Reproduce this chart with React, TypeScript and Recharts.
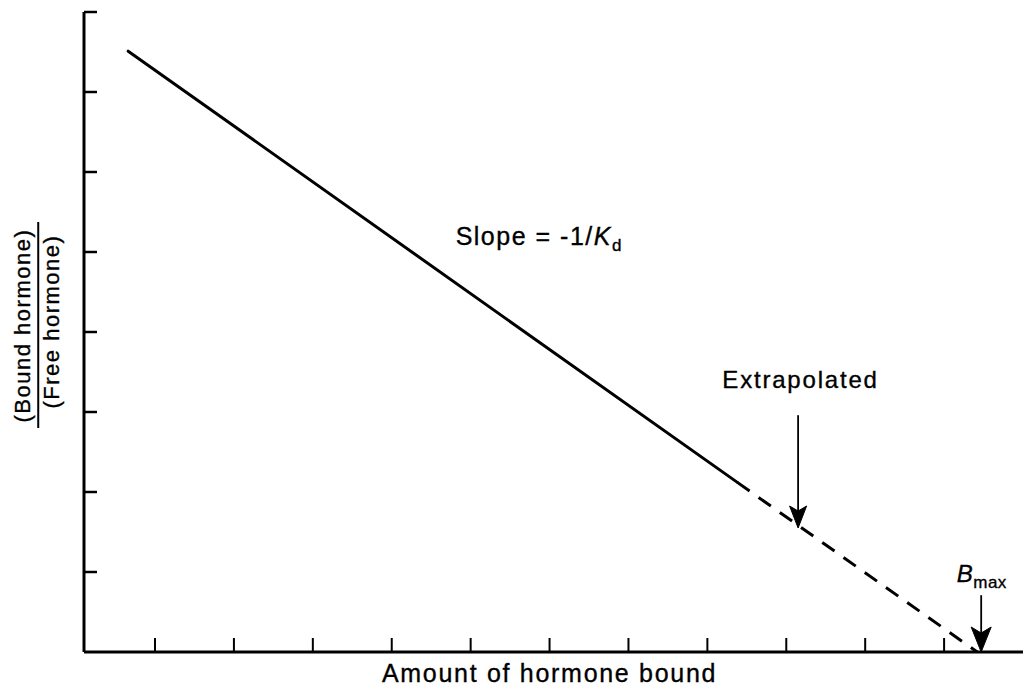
import React from 'react';
import { LineChart, Line, XAxis, YAxis, ReferenceDot, ReferenceLine } from 'recharts';

// Scatchard-style plot: values (arbitrary units)
const solidX = [0.66, 8.38];
const solidY = [7.51, 2.12];
const dashedX = [8.38, 11.42];
const dashedY = [2.12, 0];
const xTicks = [1, 2, 3, 4, 5, 6, 7, 8, 9, 10, 11];
const yTicks = [1, 2, 3, 4, 5, 6, 7, 8];

const solidData = solidX.map((x, i) => ({ x, y: solidY[i] }));
const dashedData = dashedX.map((x, i) => ({ x, y: dashedY[i] }));

const FONT = '"Liberation Sans", Arial, Helvetica, sans-serif';

const noTick = () => <g />;

const arrowHead = (w: number, len: number, notch: number) => (props: any) => {
  const { cx, cy } = props;
  return (
    <path
      d={`M${cx},${cy} L${cx - w / 2},${cy - len} L${cx},${cy - notch} L${cx + w / 2},${cy - len} Z`}
      fill="#000"
      stroke="#000"
      strokeWidth={1}
      strokeLinejoin="miter"
    />
  );
};

const textShape = (content: React.ReactNode, opts: any = {}) => (props: any) => {
  const { cx, cy } = props;
  const { anchor = 'start', size = 22, ls = 1.5, rotate = 0 } = opts;
  return (
    <text
      x={cx}
      y={cy}
      textAnchor={anchor}
      fontFamily={FONT}
      fontSize={size}
      letterSpacing={ls}
      fill="#000"
      stroke="#000"
      strokeWidth={0.35}
      transform={rotate ? `rotate(${rotate} ${cx} ${cy})` : undefined}
    >
      {content}
    </text>
  );
};

export default function App() {
  return (
    <div style={{ position: 'absolute', left: 0, top: 0, width: 1023, height: 694, background: '#fff' }}>
      <LineChart
        width={1023}
        height={694}
        margin={{ top: 12, right: 0, left: 84, bottom: 42 }}
      >
        <XAxis
          dataKey="x"
          type="number"
          domain={[0.1, 12]}
          ticks={xTicks}
          mirror
          tick={noTick}
          tickSize={14}
          axisLine={{ stroke: '#000', strokeWidth: 3 }}
          tickLine={{ stroke: '#000', strokeWidth: 2 }}
          allowDataOverflow
        />
        <YAxis
          type="number"
          domain={[0, 8]}
          ticks={yTicks}
          mirror
          tick={noTick}
          tickSize={13}
          axisLine={{ stroke: '#000', strokeWidth: 3 }}
          tickLine={{ stroke: '#000', strokeWidth: 2.5 }}
          allowDataOverflow
        />
        <Line
          data={solidData}
          dataKey="y"
          stroke="#000"
          strokeWidth={3}
          dot={false}
          isAnimationActive={false}
          strokeLinecap="round"
        />
        <Line
          data={dashedData}
          dataKey="y"
          stroke="#000"
          strokeWidth={3}
          strokeDasharray="15 11"
          dot={false}
          isAnimationActive={false}
        />
        {/* Extrapolated arrow */}
        <ReferenceLine
          segment={[{ x: 9.15, y: 2.96 }, { x: 9.15, y: 1.7 }]}
          stroke="#000"
          strokeWidth={1.8}
          ifOverflow="visible"
        />
        <ReferenceDot x={9.15} y={1.55} r={0} ifOverflow="visible" shape={arrowHead(17, 22, 17)} />
        {/* B max arrow */}
        <ReferenceLine
          segment={[{ x: 11.47, y: 0.71 }, { x: 11.47, y: 0.15 }]}
          stroke="#000"
          strokeWidth={1.8}
          ifOverflow="visible"
        />
        <ReferenceDot x={11.47} y={0} r={0} ifOverflow="visible" shape={arrowHead(20, 25, 19)} />
        {/* Labels */}
        <ReferenceDot
          x={4.81}
          y={5.09}
          r={0}
          ifOverflow="visible"
          shape={textShape(
            <>
              <tspan>Slope = -1/</tspan>
              <tspan fontStyle="italic">K</tspan>
              <tspan fontSize={17} dy={6}>d</tspan>
            </>,
            { size: 25, ls: 1.5 }
          )}
        />
        <ReferenceDot
          x={8.19}
          y={3.3}
          r={0}
          ifOverflow="visible"
          shape={textShape('Extrapolated', { size: 24, ls: 1.8 })}
        />
        <ReferenceDot
          x={11.16}
          y={0.875}
          r={0}
          ifOverflow="visible"
          shape={textShape(
            <>
              <tspan fontStyle="italic">B</tspan>
              <tspan fontSize={17} dy={6}>max</tspan>
            </>,
            { size: 24, ls: 0.5 }
          )}
        />
        <ReferenceDot
          x={6.0}
          y={-0.375}
          r={0}
          ifOverflow="visible"
          shape={textShape('Amount of hormone bound', { anchor: 'middle', size: 25, ls: 1.7 })}
        />
        <ReferenceDot
          x={-0.58}
          y={4.08}
          r={0}
          ifOverflow="visible"
          shape={textShape('(Bound hormone)', { anchor: 'middle', size: 22, ls: 1.5, rotate: -90 })}
        />
        <ReferenceDot
          x={-0.215}
          y={4.13}
          r={0}
          ifOverflow="visible"
          shape={textShape('(Free hormone)', { anchor: 'middle', size: 22, ls: 1.5, rotate: -90 })}
        />
        <ReferenceLine
          segment={[{ x: -0.48, y: 5.375 }, { x: -0.48, y: 2.8 }]}
          stroke="#000"
          strokeWidth={2}
          ifOverflow="visible"
        />
      </LineChart>
    </div>
  );
}
